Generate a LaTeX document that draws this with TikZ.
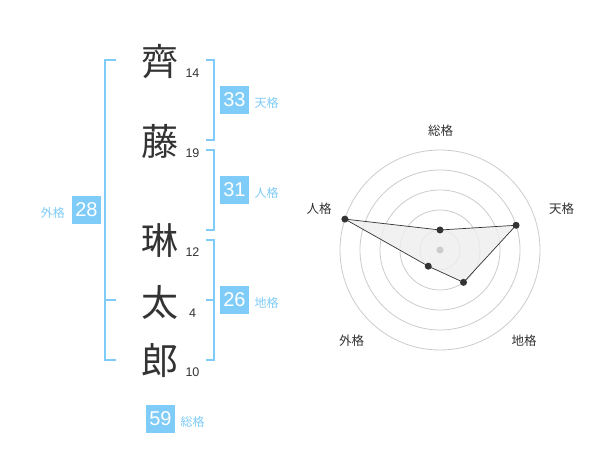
\documentclass[tikz,border=0pt]{standalone}
\usepackage{fontspec}
\setmainfont{Liberation Sans}
\newfontfamily\jpfont{Noto Sans CJK JP}
\usetikzlibrary{positioning,calc}
\definecolor{kakublue}{HTML}{80CCF8}
\definecolor{inkgray}{HTML}{333333}
\definecolor{ringgray}{HTML}{CCCCCC}
\definecolor{areagray}{HTML}{EEEEEE}
\tikzset{
  kanji/.style   ={font=\jpfont\fontsize{37}{37}\selectfont,text=inkgray,inner sep=0pt},
  strokes/.style ={font=\fontsize{12.5}{12.5}\selectfont,text=inkgray,inner sep=0pt},
  kakubox/.style ={fill=kakublue,text=white,minimum size=28.5pt,inner sep=0pt,font=\fontsize{20}{20}\selectfont},
  kakuname/.style={font=\jpfont\fontsize{12}{12}\selectfont,text=kakublue,inner sep=0pt,yshift=-3pt},
  bracket/.style ={draw=kakublue,line width=2pt},
  ring/.style    ={draw=ringgray,line width=0.8pt},
  dot/.style     ={circle,fill=inkgray,minimum size=7pt,inner sep=0pt},
  axisname/.style={font=\jpfont\fontsize{12.5}{12.5}\selectfont,text=inkgray,inner sep=0pt},
}

\begin{document}
\begin{tikzpicture}[x=1pt,y=-1pt]
  \useasboundingbox[fill=white] (0,0) rectangle (600,470);
  % name characters with stroke counts
  \foreach \y/\name/\ch/\num in {61.5/c1/齊/14,141.5/c2/藤/19,240.5/c3/琳/12,302/c4/太/4,361/c5/郎/10}{
     \node[kanji] (\name) at (160,\y) {\ch};
     \node[strokes] (\name n) at (192.5,\y+11.5) {\num};
  }
  % brackets
  \coordinate (lt) at (116,60);   \coordinate (lb) at (116,360);
  \draw[bracket] (lt) -- (104.7,60) -- (104.7,360) -- (lb);
  \draw[bracket] (104.7,300) -- (116,300);
  \foreach \a/\b in {60/140,150/230,240/360}{
     \draw[bracket] (205.5,\a) -- (214.3,\a) -- (214.3,\b) -- (205.5,\b);
  }
  \draw[bracket] (205.5,300) -- (214.3,300);
  % kaku boxes
  \node[kakubox] (gai)  at (86.5,210)  {28};
  \node[kakubox] (ten)  at (234.5,100) {33};
  \node[kakubox] (jin)  at (234.5,190) {31};
  \node[kakubox] (chi)  at (234.5,300) {26};
  \node[kakubox] (sou)  at (160.5,419) {59};
  \node[kakuname,left=7pt of gai]  (gait) {外格};
  \node[kakuname,right=5.5pt of ten] (tent) {天格};
  \node[kakuname,right=5.5pt of jin] (jint) {人格};
  \node[kakuname,right=5.5pt of chi] (chit) {地格};
  \node[kakuname,right=5.5pt of sou] (sout) {総格};

  % radar chart
  \coordinate (ctr) at (440,250);
  \foreach \r in {20,40,60,80,100}{
     \draw[ring] (ctr) circle (\r);
  }
  \coordinate (p1) at ($(ctr)+(-90:20)$);
  \coordinate (p2) at ($(ctr)+(-18:80)$);
  \coordinate (p3) at ($(ctr)+(54:40)$);
  \coordinate (p4) at ($(ctr)+(126:20)$);
  \coordinate (p5) at ($(ctr)+(198:100)$);
  \fill[areagray,opacity=0.8] (p1) -- (p2) -- (p3) -- (p4) -- (p5) -- cycle;
  \draw[inkgray,line width=0.7pt] (p1) -- (p2) -- (p3) -- (p4) -- (p5) -- cycle;
  \node[circle,fill=ringgray,minimum size=7pt,inner sep=0pt] (mid) at (ctr) {};
  \foreach \i in {1,...,5}{
     \node[dot] (d\i) at (p\i) {};
  }
  \node[axisname] (a1) at (440.7,130.7) {総格};
  \node[axisname] (a2) at (561.7,208.3) {天格};
  \node[axisname] (a3) at (319,208.3)   {人格};
  \node[axisname] (a4) at (524,340.7)   {地格};
  \node[axisname] (a5) at (351.7,340.7) {外格};
\end{tikzpicture}
\end{document}
